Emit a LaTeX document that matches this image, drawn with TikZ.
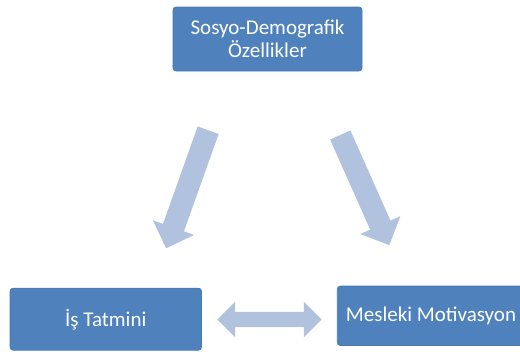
\documentclass[tikz,border=0pt]{standalone}
\usepackage{fontspec}
\setmainfont{Carlito}
\usetikzlibrary{shapes.arrows}
\definecolor{boxblue}{HTML}{4F81BD}
\definecolor{boxedge}{HTML}{4A7BB7}
\definecolor{arrowblue}{HTML}{B1C2DE}
\tikzset{
  bluebox/.style={rectangle, rounded corners=2.2pt, fill=boxblue, draw=boxedge, line width=0.5pt,
    text=white, align=center, inner sep=0pt, font=\fontsize{15.75}{17.5}\selectfont},
  bigarrow/.style={single arrow, fill=arrowblue, draw=none, inner xsep=0pt, inner ysep=8.15pt,
    single arrow head extend=8.1pt, single arrow tip angle=90, shape border uses incircle=false},
  twoarrow/.style={double arrow, fill=arrowblue, draw=none, inner xsep=0pt, inner ysep=5.6pt,
    double arrow head extend=7.5pt, double arrow tip angle=90}
}
\begin{document}
\begin{tikzpicture}[x=0.75pt,y=-0.75pt]
\path[use as bounding box, clip] (0,0) rectangle (520,351);
\node[bluebox, minimum width=141.75pt, minimum height=48pt] (sd) at (267.5,39) {Sosyo-Demografik\\Özellikler};
\node[bluebox, minimum width=143.6pt, minimum height=46.5pt] (is) at (105.8,319.2) {İş Tatmini};
\node[bluebox, minimum width=140.6pt, minimum height=44.6pt] (mm) at (431,315.8) {Mesleki Motivasyon};
\node[bigarrow, minimum height=94pt, rotate=250.4] (a1) at (189,184) {};
\node[bigarrow, minimum height=90.4pt, rotate=-66] (a2) at (362.5,185) {};
\node[twoarrow, minimum height=78.3pt] (a3) at (269.5,319.5) {};
\end{tikzpicture}
\end{document}
